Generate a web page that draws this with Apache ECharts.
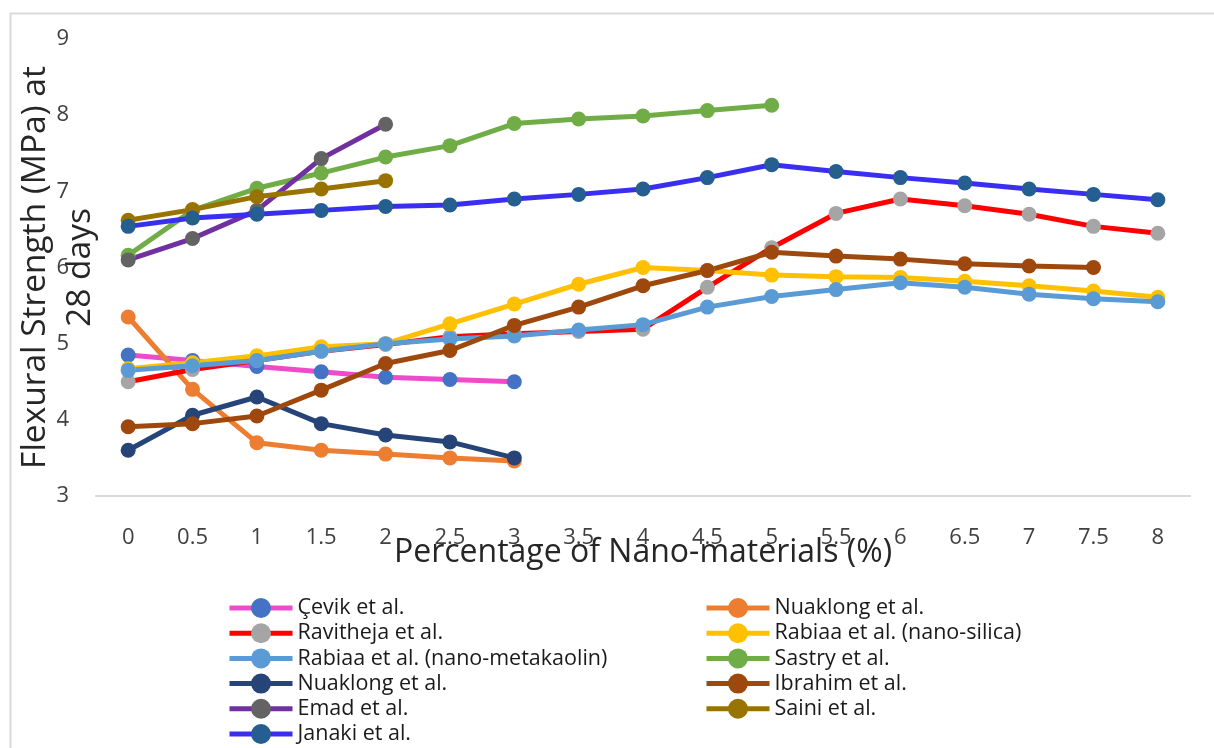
<!DOCTYPE html>
<html>
<head>
<meta charset="utf-8">
<script src="https://cdn.jsdelivr.net/npm/echarts@6/dist/echarts.min.js"></script>
<style>
  html, body { margin: 0; padding: 0; background: #fff; }
  #chart { width: 1214px; height: 748px; }
</style>
</head>
<body>
<div id="chart"></div>
<script>
// Nano-material dosage (%) along the x axis
const categories = ['0', '0.5', '1', '1.5', '2', '2.5', '3', '3.5', '4', '4.5', '5', '5.5', '6', '6.5', '7', '7.5', '8'];

// Flexural strength at 28 days (MPa) per study
const cevik      = [4.85, 4.78, 4.70, 4.63, 4.56, 4.53, 4.50];
const nuaklongA  = [5.35, 4.40, 3.70, 3.60, 3.55, 3.50, 3.46];
const ravitheja  = [4.50, 4.66, 4.78, 4.90, 4.99, 5.09, 5.13, 5.16, 5.19, 5.74, 6.26, 6.71, 6.90, 6.81, 6.70, 6.54, 6.45];
const rabiaaNS   = [4.67, 4.75, 4.84, 4.96, 5.00, 5.26, 5.52, 5.78, 6.00, 5.96, 5.90, 5.88, 5.87, 5.82, 5.76, 5.69, 5.61];
const rabiaaNMK  = [4.65, 4.71, 4.78, 4.90, 5.00, 5.06, 5.10, 5.18, 5.25, 5.48, 5.62, 5.71, 5.80, 5.74, 5.65, 5.59, 5.55];
const sastry     = [6.16, 6.75, 7.04, 7.24, 7.45, 7.60, 7.89, 7.95, 7.99, 8.06, 8.13];
const nuaklongB  = [3.60, 4.06, 4.30, 3.95, 3.80, 3.71, 3.50];
const ibrahim    = [3.91, 3.95, 4.05, 4.39, 4.74, 4.91, 5.24, 5.48, 5.76, 5.96, 6.20, 6.15, 6.11, 6.05, 6.02, 6.00];
const emad       = [6.10, 6.38, 6.75, 7.43, 7.88];
const saini      = [6.62, 6.76, 6.93, 7.03, 7.14];
const janaki     = [6.54, 6.65, 6.70, 6.75, 6.80, 6.82, 6.90, 6.96, 7.03, 7.18, 7.35, 7.26, 7.18, 7.11, 7.03, 6.96, 6.89];

const yTicks = { min: 3, max: 9, interval: 1 };

// name, values, line colour, marker colour
const studies = [
  ['Çevik et al.', cevik, '#EE4BCB', '#4472C4'],
  ['Nuaklong et al.', nuaklongA, '#ED7D31', '#ED7D31'],
  ['Ravitheja et al.', ravitheja, '#FF0000', '#A5A5A5'],
  ['Rabiaa et al. (nano-silica)', rabiaaNS, '#FFC000', '#FFC000'],
  ['Rabiaa et al. (nano-metakaolin)', rabiaaNMK, '#5B9BD5', '#5B9BD5'],
  ['Sastry et al.', sastry, '#70AD47', '#70AD47'],
  ['Nuaklong et al. ', nuaklongB, '#264478', '#264478'],
  ['Ibrahim et al.', ibrahim, '#9E480E', '#9E480E'],
  ['Emad et al.', emad, '#7030A0', '#636363'],
  ['Saini et al.', saini, '#997300', '#997300'],
  ['Janaki et al.', janaki, '#3A2EF0', '#255E91']
];

const series = studies.map(([name, values, lineColor, markColor]) => ({
  name: name,
  type: 'line',
  data: values,
  symbol: 'circle',
  symbolSize: 15,
  showAllSymbol: true,
  lineStyle: { color: lineColor, width: 5 },
  itemStyle: { color: markColor },
  emphasis: { disabled: true },
  animation: false
}));

const legendText = { fontFamily: 'Open Sans', fontSize: 21.5, color: '#1a1a1a' };
const leftNames = studies.filter((s, i) => i % 2 === 0).map(s => s[0]);
const rightNames = studies.filter((s, i) => i % 2 === 1).map(s => s[0]);

const legendBase = {
  orient: 'vertical',
  top: 597,
  height: 200,
  padding: 0,
  itemWidth: 63,
  itemHeight: 25,
  itemGap: 3.2,
  textStyle: legendText,
  lineStyle: { width: 5 },
  selectedMode: false
};

const chart = echarts.init(document.getElementById('chart'), null, { renderer: 'canvas' });
chart.setOption({
  backgroundColor: '#fff',
  animation: false,
  graphic: [{
    type: 'rect',
    left: 8, top: 11,
    shape: { width: 1400, height: 900 },
    style: { fill: 'none', stroke: '#d9d9d9', lineWidth: 2 },
    silent: true
  }],
  grid: { left: 96, right: 24, top: 39, bottom: 252, outerBoundsMode: 'none', containLabel: false },
  legend: [
    Object.assign({ left: 227, data: leftNames }, legendBase),
    Object.assign({ left: 704, data: rightNames }, legendBase)
  ],
  xAxis: {
    type: 'category',
    data: categories,
    boundaryGap: true,
    axisLine: { lineStyle: { color: '#d9d9d9', width: 2 } },
    axisTick: { show: false },
    axisLabel: { fontFamily: 'Open Sans', fontSize: 22, color: '#404040', margin: 31, lineHeight: 22, interval: 0 },
    name: 'Percentage of Nano-materials (%)',
    nameLocation: 'middle',
    nameGap: 41,
    nameMoveOverlap: false,
    nameTextStyle: { fontFamily: 'Open Sans', fontSize: 32, color: '#262626', lineHeight: 32 }
  },
  yAxis: {
    type: 'value',
    min: yTicks.min,
    max: yTicks.max,
    interval: yTicks.interval,
    splitLine: { show: false },
    axisLine: { show: false },
    axisTick: { show: false },
    axisLabel: { fontFamily: 'Open Sans', fontSize: 22, color: '#404040', margin: 27 },
    name: 'Flexural Strength (MPa) at\n28 days',
    nameLocation: 'middle',
    nameGap: 38,
    nameRotate: 90,
    nameMoveOverlap: false,
    nameTextStyle: { fontFamily: 'Open Sans', fontSize: 33.5, color: '#262626', lineHeight: 45, align: 'center', verticalAlign: 'middle' }
  },
  series: series
});
</script>
</body>
</html>
